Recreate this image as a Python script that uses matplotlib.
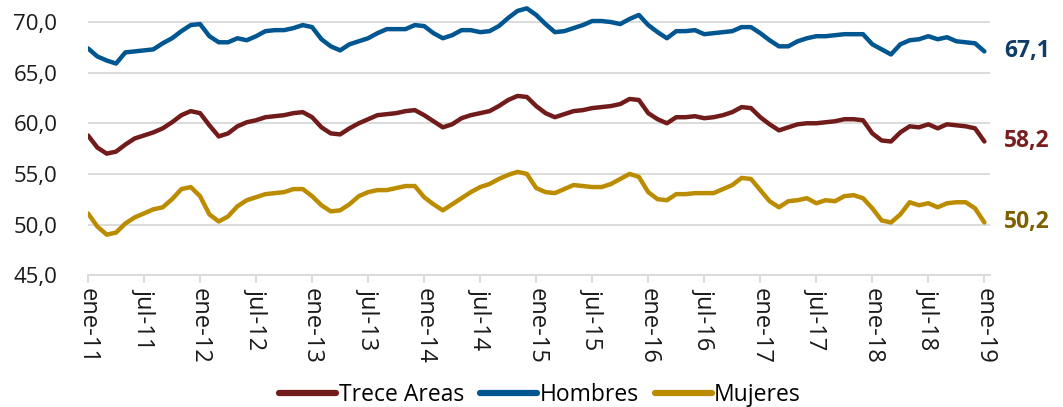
import matplotlib
matplotlib.use('Agg')

import numpy as np
import matplotlib.pyplot as plt

# =========================
# Data: tasa de ocupacion mensual, ene-11 a ene-19
# =========================

trece_areas = [
    58.8, 57.6, 57.0, 57.2, 57.9, 58.5, 58.8, 59.1, 59.5, 60.1,
    60.8, 61.2, 61.0, 59.8, 58.7, 59.0, 59.7, 60.1, 60.3, 60.6,
    60.7, 60.8, 61.0, 61.1, 60.6, 59.6, 59.0, 58.9, 59.5, 60.0,
    60.4, 60.8, 60.9, 61.0, 61.2, 61.3, 60.8, 60.2, 59.6, 59.9,
    60.5, 60.8, 61.0, 61.2, 61.7, 62.3, 62.7, 62.6, 61.7, 61.0,
    60.6, 60.9, 61.2, 61.3, 61.5, 61.6, 61.7, 61.9, 62.4, 62.3,
    61.0, 60.4, 60.0, 60.6, 60.6, 60.7, 60.5, 60.6, 60.8, 61.1,
    61.6, 61.5, 60.6, 59.9, 59.3, 59.6, 59.9, 60.0, 60.0, 60.1,
    60.2, 60.4, 60.4, 60.3, 59.0, 58.3, 58.2, 59.1, 59.7, 59.6,
    59.9, 59.5, 59.9, 59.8, 59.7, 59.5, 58.2,
]

hombres = [
    67.4, 66.6, 66.2, 65.9, 67.0, 67.1, 67.2, 67.3, 67.9, 68.4,
    69.1, 69.7, 69.8, 68.6, 68.0, 68.0, 68.4, 68.2, 68.6, 69.1,
    69.2, 69.2, 69.4, 69.7, 69.5, 68.3, 67.6, 67.2, 67.8, 68.1,
    68.4, 68.9, 69.3, 69.3, 69.3, 69.7, 69.6, 68.9, 68.4, 68.7,
    69.2, 69.2, 69.0, 69.1, 69.6, 70.4, 71.1, 71.35, 70.7, 69.8,
    69.0, 69.1, 69.4, 69.7, 70.1, 70.1, 70.0, 69.8, 70.3, 70.7,
    69.7, 69.0, 68.4, 69.1, 69.1, 69.2, 68.8, 68.9, 69.0, 69.1,
    69.5, 69.5, 68.9, 68.2, 67.6, 67.6, 68.1, 68.4, 68.6, 68.6,
    68.7, 68.8, 68.8, 68.8, 67.8, 67.3, 66.8, 67.8, 68.2, 68.3,
    68.6, 68.3, 68.5, 68.1, 68.0, 67.9, 67.1,
]

mujeres = [
    51.1, 49.8, 49.0, 49.2, 50.1, 50.7, 51.1, 51.5, 51.7, 52.5,
    53.5, 53.7, 52.8, 51.0, 50.3, 50.8, 51.8, 52.4, 52.7, 53.0,
    53.1, 53.2, 53.5, 53.5, 52.8, 51.9, 51.3, 51.4, 52.0, 52.8,
    53.2, 53.4, 53.4, 53.6, 53.8, 53.8, 52.7, 52.0, 51.4, 52.0,
    52.6, 53.2, 53.7, 54.0, 54.5, 54.9, 55.2, 55.0, 53.6, 53.2,
    53.1, 53.5, 53.9, 53.8, 53.7, 53.7, 54.0, 54.5, 55.0, 54.7,
    53.2, 52.5, 52.4, 53.0, 53.0, 53.1, 53.1, 53.1, 53.5, 53.9,
    54.6, 54.5, 53.4, 52.3, 51.7, 52.3, 52.4, 52.6, 52.1, 52.4,
    52.3, 52.8, 52.9, 52.6, 51.6, 50.4, 50.2, 51.0, 52.2, 51.9,
    52.1, 51.7, 52.1, 52.2, 52.2, 51.6, 50.2,
]

meses = ["ene", "feb", "mar", "abr", "may", "jun",
         "jul", "ago", "sep", "oct", "nov", "dic"]
fechas = [f"{meses[k % 12]}-{11 + k // 12}" for k in range(len(trece_areas))]

series = [
    ("Trece Areas", trece_areas, "#721b1b", "#7a1f1f"),
    ("Hombres", hombres, "#005691", "#0f3d66"),
    ("Mujeres", mujeres, "#bc8c00", "#7f6000"),
]

# =========================
# Figure
# =========================

plt.rcParams['font.family'] = ['Open Sans', 'DejaVu Sans']

fig = plt.figure(figsize=(10.63, 4.07), dpi=100)
ax = fig.add_axes([0.0828, 0.324, 0.8485, 0.6716])

x = np.arange(len(trece_areas))
for nombre, valores, color, color_txt in series:
    ax.plot(x, valores, color=color, lw=3.2, label=nombre,
            solid_capstyle='round', solid_joinstyle='round')
    ax.annotate(f"{valores[-1]:.1f}".replace(".", ","),
                xy=(x[-1], valores[-1]), xytext=(14, 0),
                textcoords="offset points", va="center", ha="left",
                fontsize=16.5, fontweight="bold", color=color_txt,
                annotation_clip=False)

ax.set_xlim(0, 96.6)
ax.set_ylim(45, 72)
ax.set_yticks([45, 50, 55, 60, 65, 70])
ax.set_yticklabels([f"{v:.1f}".replace(".", ",") for v in [45, 50, 55, 60, 65, 70]])

tick_pos = list(range(0, len(fechas), 6))
ax.set_xticks(tick_pos)
ax.set_xticklabels([fechas[k] for k in tick_pos], rotation=-90)

ax.grid(axis='y', color='#d9d9d9', lw=1.3)
ax.set_axisbelow(True)
for s in ['top', 'right', 'left']:
    ax.spines[s].set_visible(False)
ax.spines['bottom'].set_color('#d9d9d9')
ax.spines['bottom'].set_linewidth(1.3)
ax.tick_params(axis='y', length=0, labelsize=16, pad=22, colors='#1a1a1a')
ax.tick_params(axis='x', length=6, width=1.3, color='#d9d9d9',
               labelsize=17, pad=3, labelcolor='#1a1a1a')

leg = fig.legend(loc='center', bbox_to_anchor=(0.508, 0.03), ncol=3, frameon=False,
                 fontsize=16.5, handlelength=2.5, handletextpad=0.1, columnspacing=0.7)
for h in leg.get_lines():
    h.set_linewidth(4.5)

fig.savefig("out.png", dpi=100)
plt.close(fig)
